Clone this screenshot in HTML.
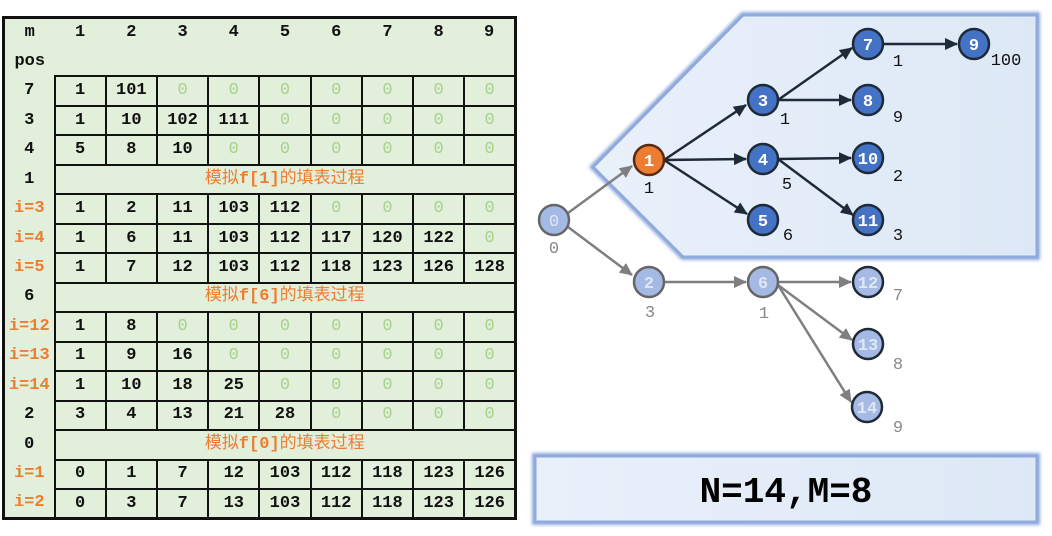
<!DOCTYPE html>
<html><head><meta charset="utf-8"><style>
body{margin:0;width:1052px;height:536px;background:#fff;position:relative;overflow:hidden;font-family:"Liberation Mono","Noto Sans CJK SC",monospace;}
table{position:absolute;left:2px;top:16px;width:515px;height:504px;border-collapse:collapse;table-layout:fixed;background:#e2efda;border:3px solid #111;}
td{text-align:center;padding:0;font-size:17px;font-weight:bold;color:#111;height:27.4px;line-height:18px;box-sizing:border-box}
td.c{border:2px solid #111}
td.l{border:none}
.o{color:#ed7d31}
.z{color:#a9d18e;font-weight:normal}
.s{color:#ed7d31;font-weight:normal;font-family:"Liberation Mono","Noto Sans CJK SC",monospace;}
.s b{font-weight:bold}
</style></head><body>
<table>
<colgroup><col style="width:51px"><col span="9"></colgroup>
<tr><td class="l">m</td><td class="l">1</td><td class="l">2</td><td class="l">3</td><td class="l">4</td><td class="l">5</td><td class="l">6</td><td class="l">7</td><td class="l">8</td><td class="l">9</td></tr>
<tr><td class="l">pos</td><td class="l" colspan="9"></td></tr>
<tr><td class="l">7</td><td class="c">1</td><td class="c">101</td><td class="c z">0</td><td class="c z">0</td><td class="c z">0</td><td class="c z">0</td><td class="c z">0</td><td class="c z">0</td><td class="c z">0</td></tr>
<tr><td class="l">3</td><td class="c">1</td><td class="c">10</td><td class="c">102</td><td class="c">111</td><td class="c z">0</td><td class="c z">0</td><td class="c z">0</td><td class="c z">0</td><td class="c z">0</td></tr>
<tr><td class="l">4</td><td class="c">5</td><td class="c">8</td><td class="c">10</td><td class="c z">0</td><td class="c z">0</td><td class="c z">0</td><td class="c z">0</td><td class="c z">0</td><td class="c z">0</td></tr>
<tr><td class="l">1</td><td class="c s" colspan="9">模拟<b>f[1]</b>的填表过程</td></tr>
<tr><td class="l o">i=3</td><td class="c">1</td><td class="c">2</td><td class="c">11</td><td class="c">103</td><td class="c">112</td><td class="c z">0</td><td class="c z">0</td><td class="c z">0</td><td class="c z">0</td></tr>
<tr><td class="l o">i=4</td><td class="c">1</td><td class="c">6</td><td class="c">11</td><td class="c">103</td><td class="c">112</td><td class="c">117</td><td class="c">120</td><td class="c">122</td><td class="c z">0</td></tr>
<tr><td class="l o">i=5</td><td class="c">1</td><td class="c">7</td><td class="c">12</td><td class="c">103</td><td class="c">112</td><td class="c">118</td><td class="c">123</td><td class="c">126</td><td class="c">128</td></tr>
<tr><td class="l">6</td><td class="c s" colspan="9">模拟<b>f[6]</b>的填表过程</td></tr>
<tr><td class="l o">i=12</td><td class="c">1</td><td class="c">8</td><td class="c z">0</td><td class="c z">0</td><td class="c z">0</td><td class="c z">0</td><td class="c z">0</td><td class="c z">0</td><td class="c z">0</td></tr>
<tr><td class="l o">i=13</td><td class="c">1</td><td class="c">9</td><td class="c">16</td><td class="c z">0</td><td class="c z">0</td><td class="c z">0</td><td class="c z">0</td><td class="c z">0</td><td class="c z">0</td></tr>
<tr><td class="l o">i=14</td><td class="c">1</td><td class="c">10</td><td class="c">18</td><td class="c">25</td><td class="c z">0</td><td class="c z">0</td><td class="c z">0</td><td class="c z">0</td><td class="c z">0</td></tr>
<tr><td class="l">2</td><td class="c">3</td><td class="c">4</td><td class="c">13</td><td class="c">21</td><td class="c">28</td><td class="c z">0</td><td class="c z">0</td><td class="c z">0</td><td class="c z">0</td></tr>
<tr><td class="l">0</td><td class="c s" colspan="9">模拟<b>f[0]</b>的填表过程</td></tr>
<tr><td class="l o">i=1</td><td class="c">0</td><td class="c">1</td><td class="c">7</td><td class="c">12</td><td class="c">103</td><td class="c">112</td><td class="c">118</td><td class="c">123</td><td class="c">126</td></tr>
<tr><td class="l o">i=2</td><td class="c">0</td><td class="c">3</td><td class="c">7</td><td class="c">13</td><td class="c">103</td><td class="c">112</td><td class="c">118</td><td class="c">123</td><td class="c">126</td></tr>
</table>

<svg width="1052" height="536" style="position:absolute;left:0;top:0" font-family="Liberation Mono, monospace">
<defs>
<filter id="g" x="-10%" y="-10%" width="120%" height="120%"><feGaussianBlur stdDeviation="1.5"/></filter>
<linearGradient id="bg" x1="0" x2="1"><stop offset="0" stop-color="#e9f0fa"/><stop offset="1" stop-color="#dde8f6"/></linearGradient>
<marker id="ad" markerWidth="13" markerHeight="12" refX="12" refY="6" orient="auto" markerUnits="userSpaceOnUse" viewBox="0 0 13 12"><path d="M0,0L13,6L0,12z" fill="#1f2a38"/></marker>
<marker id="ag" markerWidth="13" markerHeight="12" refX="12" refY="6" orient="auto" markerUnits="userSpaceOnUse" viewBox="0 0 13 12"><path d="M0,0L13,6L0,12z" fill="#7f7f7f"/></marker>
</defs>
<polygon points="593,167 743,15 1037,15 1037,257 683,257" fill="none" stroke="#8faadc" stroke-width="6" filter="url(#g)"/>
<polygon points="593,167 743,15 1037,15 1037,257 683,257" fill="url(#bg)" stroke="#8faadc" stroke-width="3"/>
<rect x="535" y="456" width="502" height="66" fill="none" stroke="#8faadc" stroke-width="6" filter="url(#g)"/>
<rect x="535" y="456" width="502" height="66" fill="url(#bg)" stroke="#8faadc" stroke-width="3"/>
<text x="786" y="502" font-size="36" font-weight="bold" text-anchor="middle" fill="#000">N=14,M=8</text>

<g stroke-width="2.5" fill="none">
<line x1="568" y1="213" x2="632" y2="166" stroke="#7f7f7f" marker-end="url(#ag)"/>
<line x1="568" y1="227" x2="632" y2="275" stroke="#7f7f7f" marker-end="url(#ag)"/>
<line x1="664" y1="282" x2="746" y2="282" stroke="#7f7f7f" marker-end="url(#ag)"/>
<line x1="778" y1="282" x2="851" y2="282" stroke="#7f7f7f" marker-end="url(#ag)"/>
<line x1="778" y1="285" x2="852" y2="340" stroke="#7f7f7f" marker-end="url(#ag)"/>
<line x1="778" y1="285" x2="851" y2="402" stroke="#7f7f7f" marker-end="url(#ag)"/>
<line x1="664" y1="160" x2="746" y2="105" stroke="#1f2a38" marker-end="url(#ad)"/>
<line x1="664" y1="160" x2="746" y2="159" stroke="#1f2a38" marker-end="url(#ad)"/>
<line x1="664" y1="160" x2="747" y2="214" stroke="#1f2a38" marker-end="url(#ad)"/>
<line x1="778" y1="100" x2="852" y2="48" stroke="#1f2a38" marker-end="url(#ad)"/>
<line x1="778" y1="100" x2="851" y2="100" stroke="#1f2a38" marker-end="url(#ad)"/>
<line x1="778" y1="159" x2="851" y2="158" stroke="#1f2a38" marker-end="url(#ad)"/>
<line x1="778" y1="159" x2="853" y2="215" stroke="#1f2a38" marker-end="url(#ad)"/>
<line x1="883" y1="44" x2="957" y2="44" stroke="#1f2a38" marker-end="url(#ad)"/>
</g>

<g stroke-width="2.5" font-size="17" font-weight="bold" text-anchor="middle">
<circle cx="554" cy="220" r="15" fill="#a4b9e3" stroke="#666"/><text x="554" y="226" fill="#dfe7f5" font-weight="normal">0</text>
<circle cx="649" cy="282" r="15" fill="#a4b9e3" stroke="#666"/><text x="649" y="288" fill="#dfe7f5">2</text>
<circle cx="763" cy="282" r="15" fill="#a4b9e3" stroke="#666"/><text x="763" y="288" fill="#dfe7f5">6</text>
<circle cx="868" cy="282" r="15" fill="#a4b9e3" stroke="#1f2a38"/><text x="868" y="288" fill="#dfe7f5">12</text>
<circle cx="868" cy="344" r="15" fill="#a4b9e3" stroke="#1f2a38"/><text x="868" y="350" fill="#dfe7f5">13</text>
<circle cx="867" cy="407" r="15" fill="#a4b9e3" stroke="#1f2a38"/><text x="867" y="413" fill="#dfe7f5">14</text>
<circle cx="649" cy="160" r="15" fill="#ed7d31" stroke="#5a2a10"/><text x="649" y="166" fill="#fff">1</text>
<circle cx="763" cy="100" r="15" fill="#4472c4" stroke="#1f2a38"/><text x="763" y="106" fill="#fff">3</text>
<circle cx="763" cy="159" r="15" fill="#4472c4" stroke="#1f2a38"/><text x="763" y="165" fill="#fff">4</text>
<circle cx="763" cy="220" r="15" fill="#4472c4" stroke="#1f2a38"/><text x="763" y="226" fill="#fff">5</text>
<circle cx="868" cy="44" r="15" fill="#4472c4" stroke="#1f2a38"/><text x="868" y="50" fill="#fff">7</text>
<circle cx="974" cy="44" r="15" fill="#4472c4" stroke="#1f2a38"/><text x="974" y="50" fill="#fff">9</text>
<circle cx="868" cy="100" r="15" fill="#4472c4" stroke="#1f2a38"/><text x="868" y="106" fill="#fff">8</text>
<circle cx="868" cy="158" r="15" fill="#4472c4" stroke="#1f2a38"/><text x="868" y="164" fill="#fff">10</text>
<circle cx="868" cy="220" r="15" fill="#4472c4" stroke="#1f2a38"/><text x="868" y="226" fill="#fff">11</text>
</g>

<g font-size="17" text-anchor="middle">
<text x="554" y="253" fill="#888">0</text>
<text x="650" y="317" fill="#888">3</text>
<text x="764" y="318" fill="#888">1</text>
<text x="898" y="300" fill="#888">7</text>
<text x="898" y="369" fill="#888">8</text>
<text x="898" y="432" fill="#888">9</text>
<text x="649" y="193" fill="#111">1</text>
<text x="785" y="124" fill="#111">1</text>
<text x="787" y="189" fill="#111">5</text>
<text x="788" y="240" fill="#111">6</text>
<text x="898" y="66" fill="#111">1</text>
<text x="1006" y="65" fill="#111">100</text>
<text x="898" y="122" fill="#111">9</text>
<text x="898" y="181" fill="#111">2</text>
<text x="898" y="240" fill="#111">3</text>
</g>
</svg>
</body></html>
